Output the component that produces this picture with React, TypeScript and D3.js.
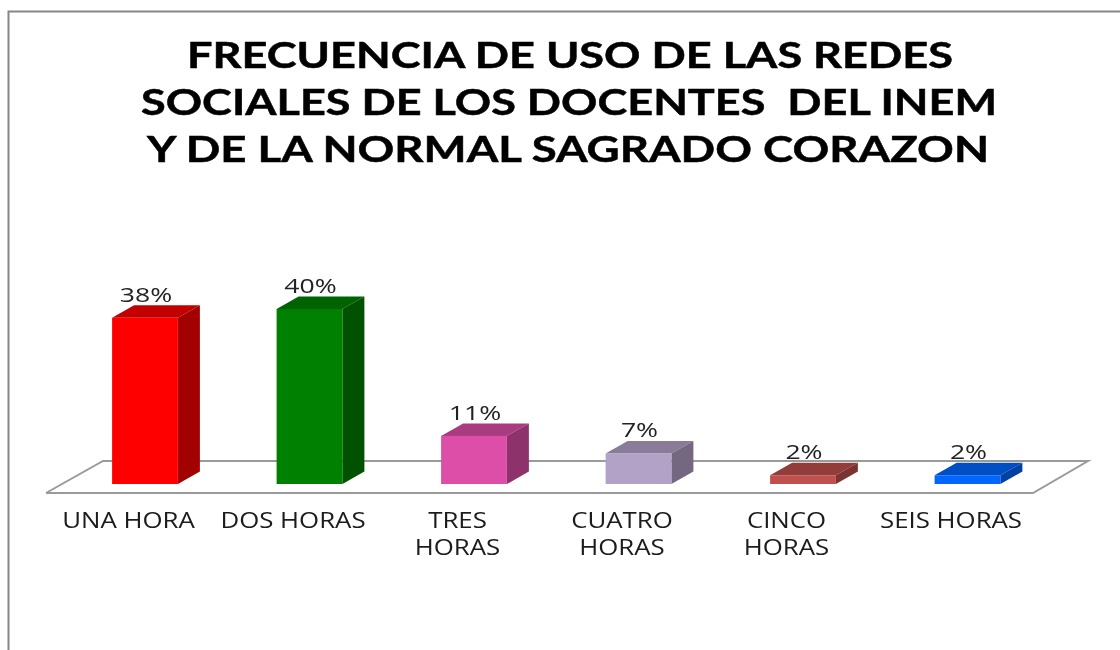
import React from 'react';
import * as d3 from 'd3';

// Data
const categories = ['UNA HORA', 'DOS HORAS', 'TRES HORAS', 'CUATRO HORAS', 'CINCO HORAS', 'SEIS HORAS'];
const percents = [38, 40, 11, 7, 2, 2];
const frontColors = ['#ff0000', '#008000', '#dd4ea9', '#b3a2c7', '#c0504d', '#0066ff'];
const titleLines = [
  'FRECUENCIA DE USO DE LAS REDES',
  'SOCIALES DE LOS DOCENTES  DEL INEM',
  'Y DE LA NORMAL SAGRADO CORAZON',
];
// wrapped category labels, same as the chart breaks them
const labelLines = [['UNA HORA'], ['DOS HORAS'], ['TRES', 'HORAS'], ['CUATRO', 'HORAS'], ['CINCO', 'HORAS'], ['SEIS HORAS']];

const width = 1120;
const height = 650;
const baseY = 484; // front bottom edge of the bars
const depthX = 22;
const depthY = 12.5;

const x = d3.scaleBand<string>().domain(categories).range([62.75, 1049.75]).paddingInner(0.6).paddingOuter(0.3);
const y = d3.scaleLinear().domain([0, 40]).range([baseY, 309]);

const font = '"Open Sans", sans-serif';
const titleSpans = [[187, 766], [141, 856], [147, 842]];
const titleBaselines = [68, 115, 162];

export default function App() {
  const line = d3.line();
  const floor = line([[46, 493], [103, 461], [1088, 461], [1033, 493], [46, 493]]) as string;

  return (
    <svg
      width={width}
      height={height}
      style={{ position: 'fixed', left: 0, top: 0, background: '#fff', display: 'block' }}
    >
      <defs>
        <filter id="soft" x="-5%" y="-20%" width="110%" height="140%">
          <feGaussianBlur stdDeviation="0.45" />
        </filter>
      </defs>

      {/* outer frame, only top and left show */}
      <path d="M8.5 650V11.5H1120" fill="none" stroke="#868686" strokeWidth={2} />

      <g filter="url(#soft)">
        {titleLines.map((t, i) => (
          <text
            key={i}
            x={titleSpans[i][0]}
            y={titleBaselines[i]}
            textLength={titleSpans[i][1]}
            lengthAdjust="spacingAndGlyphs"
            fontFamily='Lato, "Open Sans", sans-serif'
            fontWeight={700}
            fontSize={37}
            fill="#000"
            stroke="#000"
            strokeWidth={0.5}
            xmlSpace="preserve"
          >
            {t}
          </text>
        ))}
      </g>

      <path d={floor} fill="#fff" stroke="#9a9a9a" strokeWidth={2} strokeLinejoin="miter" />

      {categories.map((c, i) => {
        const x0 = x(c) as number;
        const bw = x.bandwidth();
        const top = y(percents[i]);
        const base = d3.color(frontColors[i]) as d3.RGBColor;
        const topFill = base.darker(0.75).formatHex();
        const sideFill = base.darker(1.25).formatHex();
        const cx = x0 + bw / 2;
        return (
          <g key={c}>
            <path
              d={line([[x0, top], [x0 + depthX, top - depthY], [x0 + bw + depthX, top - depthY], [x0 + bw, top]]) + 'Z'}
              fill={topFill}
            />
            <path
              d={line([[x0 + bw, top], [x0 + bw + depthX, top - depthY], [x0 + bw + depthX, baseY - depthY], [x0 + bw, baseY]]) + 'Z'}
              fill={sideFill}
            />
            <rect x={x0} y={top} width={bw} height={baseY - top} fill={frontColors[i]} />
            <text
              transform={`translate(${cx + 1},${top - 16}) scale(1.33,1)`}
              textAnchor="middle"
              fontFamily={font}
              fontSize={20}
              fill="#222"
              filter="url(#soft)"
            >
              {percents[i]}%
            </text>
            {labelLines[i].map((l, j) => (
              <text
                key={l}
                transform={`translate(${cx - 16.5},${528 + j * 26.5}) scale(1.23,1)`}
                textAnchor="middle"
                fontFamily={font}
                fontSize={21}
                fill="#1a1a1a"
                filter="url(#soft)"
              >
                {l}
              </text>
            ))}
          </g>
        );
      })}
    </svg>
  );
}
